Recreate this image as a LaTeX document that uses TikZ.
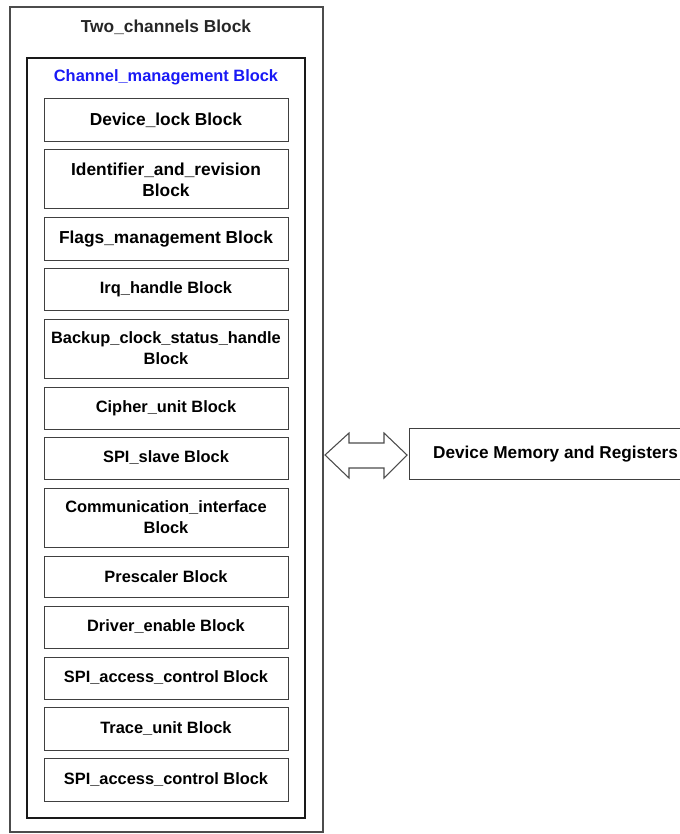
\documentclass[tikz,border=0pt]{standalone}
\usepackage{fontspec}
\setmainfont{Liberation Sans}
\newcommand{\fs}[1]{\fontsize{#1}{15.75}\selectfont\bfseries}
\begin{document}
\begin{tikzpicture}[x=0.75pt,y=-0.75pt,
  blk/.style={draw=black!75,line width=0.75pt,minimum width=244*0.75pt,align=center,font=\fs{12.3},inner sep=0pt},
  big/.style={font=\fs{13}},
  ttl/.style={font=\fs{12.3},inner sep=0pt}]
\useasboundingbox (0,0) rectangle (680,834);
\begin{scope}
\clip (0,0) rectangle (680,834);
% outer
\draw[black!70,line width=1.1pt] (10,7) rectangle (323,832);
\node[ttl,big,text=black!85] (t1) at (166,27) {Two\_channels Block};
% inner
\draw[black!90,line width=1.5pt] (27,58) rectangle (305,818);
\node[ttl,text={rgb,255:red,25;green,25;blue,245}] (t2) at (166,77) {Channel\_management Block};
% blocks
\newcommand{\blkat}[5]{\node[blk,#5,minimum height=(#3-#2)*0.75pt] (#1) at (166,{(#2+#3)/2}) {#4};}
\blkat{b1}{99}{142}{Device\_lock Block}{big}
\blkat{b2}{150}{209}{Identifier\_and\_revision\\Block}{big}
\blkat{b3}{218}{260}{Flags\_management Block}{big}
\blkat{b4}{268}{310}{Irq\_handle Block}{}
\blkat{b5}{319}{378}{Backup\_clock\_status\_handle\\Block}{}
\blkat{b6}{387}{429}{Cipher\_unit Block}{}
\blkat{b7}{437}{479}{SPI\_slave Block}{}
\blkat{b8}{488}{547}{Communication\_interface\\Block}{}
\blkat{b9}{556}{597}{Prescaler Block}{}
\blkat{b10}{606}{648}{Driver\_enable Block}{}
\blkat{b11}{657}{699}{SPI\_access\_control Block}{}
\blkat{b12}{707}{750}{Trace\_unit Block}{}
\blkat{b13}{758}{801}{SPI\_access\_control Block}{}
% device box
\node[draw=black!75,line width=0.75pt,minimum width=293*0.75pt,minimum height=51*0.75pt,font=\fs{12.9},inner sep=0pt] (dev) at (555.5,454) {Device Memory and Registers};
% double arrow
\draw[black!70,line width=0.8pt,fill=white] (325,455) -- (349,433) -- (349,443) -- (384,443) -- (384,433) -- (407,455) -- (384,478) -- (384,468) -- (349,468) -- (349,478) -- cycle;
\end{scope}
\end{tikzpicture}
\end{document}
